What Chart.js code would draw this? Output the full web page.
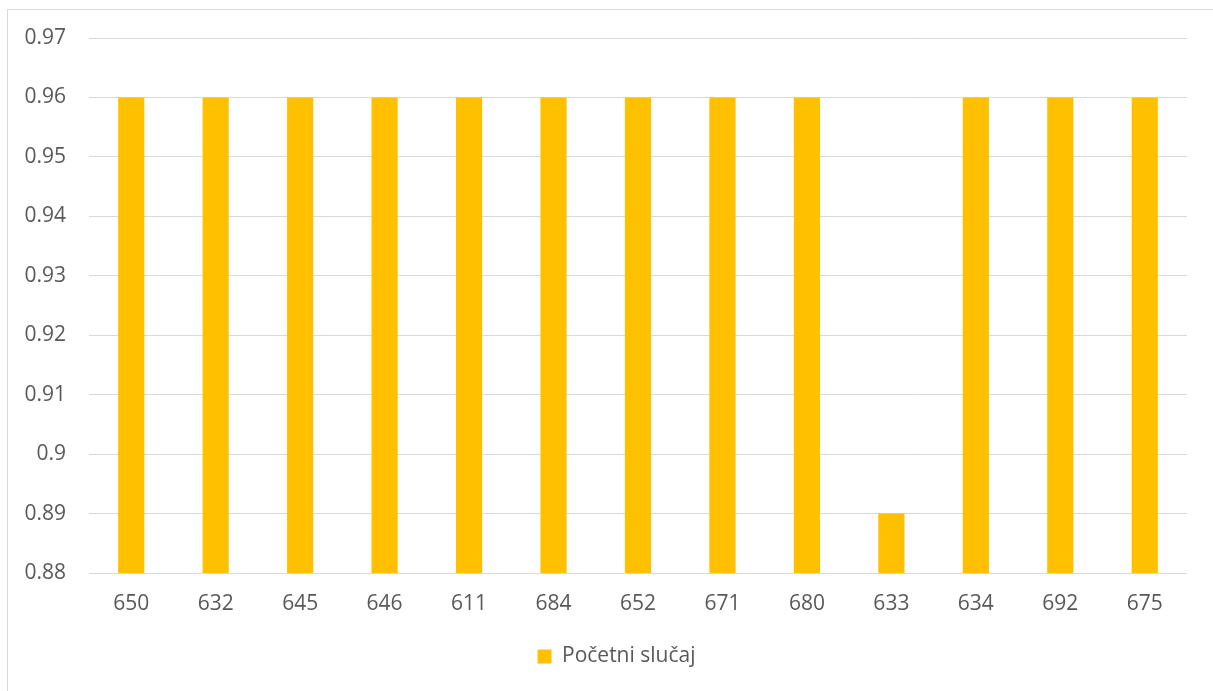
<!DOCTYPE html>
<html>
<head>
<meta charset="utf-8">
<script src="https://cdn.jsdelivr.net/npm/chart.js@4.4.0/dist/chart.umd.min.js"></script>
<style>
  html, body { margin: 0; padding: 0; background: #fff; }
  #wrap { position: relative; width: 1213px; height: 691px; overflow: hidden; }
  #frame { position: absolute; left: 7px; top: 9px; width: 1300px; height: 800px; border: 1px solid #d9d9d9; box-sizing: border-box; }
  canvas { position: absolute; left: 0; top: 0; }
</style>
</head>
<body>
<div id="wrap">
  <div id="frame"></div>
  <canvas id="chart" width="1213" height="691"></canvas>
</div>
<script>
// data
const categories = ["650", "632", "645", "646", "611", "684", "652", "671", "680", "633", "634", "692", "675"];
const seriesName = "Početni slučaj";
const seriesValues = [0.96, 0.96, 0.96, 0.96, 0.96, 0.96, 0.96, 0.96, 0.96, 0.89, 0.96, 0.96, 0.96];
const yMin = 0.88;
const yMax = 0.97;
const yStep = 0.01;

const FONT = "'Open Sans', 'Noto Sans', sans-serif";
const TEXT = "#595959";
const GRID = "#d9d9d9";

// legend sits a bit right of the canvas centre in the original
const legendShift = {
  id: "legendShift",
  afterLayout(chart) {
    if (chart.legend) { chart.legend.left += 23; chart.legend.right += 23; }
  }
};

new Chart(document.getElementById("chart").getContext("2d"), {
  type: "bar",
  data: {
    labels: categories,
    datasets: [{
      label: seriesName,
      data: seriesValues,
      backgroundColor: "#FFC000",
      borderWidth: 0,
      barPercentage: 0.62,
      categoryPercentage: 0.5
    }]
  },
  options: {
    responsive: false,
    animation: false,
    layout: { padding: { top: 38, right: 26, left: 0, bottom: 14 } },
    plugins: {
      legend: {
        display: true,
        position: "bottom",
        labels: { color: TEXT, font: { family: FONT, size: 21 }, boxWidth: 14, boxHeight: 14, padding: 10 }
      },
      tooltip: { enabled: false }
    },
    scales: {
      x: {
        grid: { display: false, drawTicks: false },
        border: { display: false },
        ticks: { color: TEXT, font: { family: FONT, size: 21 }, padding: 18, maxRotation: 0 },
        afterFit: s => { s.height = 63; }
      },
      y: {
        min: yMin,
        max: yMax,
        grid: { color: GRID, lineWidth: 1, drawTicks: false },
        border: { display: false },
        ticks: {
          stepSize: yStep,
          color: TEXT,
          font: { family: FONT, size: 21 },
          padding: 23,
          callback: v => String(parseFloat(v.toFixed(2)))
        },
        afterFit: s => { s.width = 89; }
      }
    }
  },
  plugins: [legendShift]
});
</script>
</body>
</html>
